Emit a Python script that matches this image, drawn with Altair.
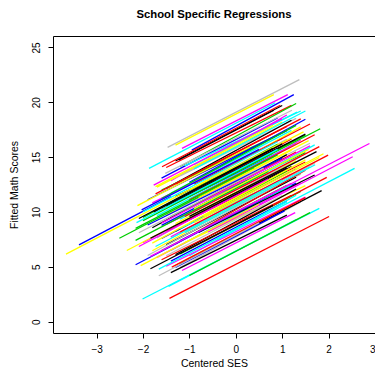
import altair as alt
import pandas as pd

# School-specific fitted regression lines: start/end of Centered SES and fitted math score
x_start = [
    -1.3, -1.5, -1.2, -1.6, -1.1, -1.4, -1.7, -1.2, -1.5, -1.3,
    -1.6, -1.0, -1.4, -1.8, -1.2, -1.5, -1.3, -1.6, -1.1, -1.4,
    -1.7, -1.2, -1.5, -1.3, -1.8, -1.0, -1.4, -1.6, -1.2, -1.5,
    -1.3, -1.7, -1.1, -1.5, -1.3, -1.6, -1.2, -1.4, -1.8, -1.1,
    -1.5, -1.3, -1.6, -1.2, -1.4, -1.7, -1.1, -1.5, -1.3, -1.6,
    -1.2, -1.4, -1.0, -1.5, -1.3, -1.2, -1.4, -0.9, -2.0, -1.9,
    -0.8, -2.0, -0.9, -1.9, -0.8, -1.0, -2.0, -1.9, -0.9, -1.6,
    -1.8, -1.4, -1.5, -1.1, -1.6,
    -1.47, -1.30, -1.16, -0.95, -1.59, -1.23, -1.87, -0.90, -1.52, -0.60,
    -0.40, -0.60, -0.40, -1.20, -1.00, -1.20, -2.01, -1.43, -1.45, -1.00,
    -1.16, -1.30, -1.38, -1.66, -1.84, -2.16, -2.05, -3.38, -3.66, -2.51,
    -2.35, -2.12, -2.03, -2.14, -2.16, -2.09, -1.77, -1.73, -1.00, -0.80,
    -0.90, -1.00, -0.70, -1.10, -1.73, -1.77, -2.00, -2.09, -2.16, -1.84,
    -2.09, -1.73, -1.84, -1.66,
]
x_end = [
    1.0, 1.2, 1.3, 0.9, 1.4, 1.1, 1.0, 1.3, 1.2, 1.4,
    0.9, 1.5, 1.2, 1.0, 1.4, 1.1, 1.3, 1.2, 1.5, 1.0,
    1.3, 1.4, 1.2, 1.6, 1.1, 1.3, 1.5, 1.2, 1.4, 1.0,
    1.3, 1.4, 1.2, 1.5, 1.1, 1.3, 1.6, 1.2, 1.0, 1.4,
    1.3, 1.5, 1.1, 1.3, 1.2, 1.4, 1.5, 1.0, 1.3, 1.2,
    1.4, 1.1, 1.3, 1.5, 1.2, 1.4, 1.1, 1.6, 0.8, 1.0,
    1.7, 1.1, 1.8, 0.9, 1.7, 1.7, 0.9, 1.1, 1.5, 1.6,
    1.5, 1.7, 1.5, 1.8, 1.3,
    1.37, 0.82, 1.12, 1.25, 0.96, 0.82, 0.85, 1.32, 1.21, 1.82,
    2.88, 2.52, 2.56, 1.99, 1.96, 1.85, 1.80, 2.01, 1.30, 1.60,
    1.28, 1.05, 1.50, 0.50, 0.80, 0.30, 0.50, -1.40, -0.60, 0.40,
    0.60, 0.30, 0.50, 0.90, 0.70, 0.60, 1.00, 1.10, 1.46, 1.57,
    1.57, 1.74, 1.89, 1.71, 0.80, 1.00, 0.90, 0.80, 0.90, 1.10,
    0.70, 1.00, 1.20, 1.10,
]
y_start = [
    14.64, 14.05, 14.14, 13.08, 14.20, 12.84, 12.26, 13.28, 12.15, 12.54,
    12.00, 12.70, 11.72, 10.82, 11.52, 10.90, 11.40, 10.22, 11.28, 10.56,
    9.66, 10.32, 9.70, 10.17, 8.56, 10.40, 9.60, 8.78, 9.34, 8.85,
    8.94, 7.62, 9.08, 8.25, 8.21, 7.58, 8.50, 7.72, 6.46, 8.19,
    7.00, 7.08, 6.48, 7.38, 6.48, 5.86, 7.20, 6.00, 6.11, 5.64,
    6.16, 5.52, 6.00, 5.05, 5.14, 4.94, 4.46, 12.52, 9.20, 8.81,
    10.36, 7.20, 9.02, 6.03, 8.12, 11.10, 9.50, 11.11, 13.92, 8.98,
    7.16, 7.62, 10.50, 9.58, 11.22,
    15.88, 16.09, 15.79, 15.64, 14.12, 14.73, 13.97, 14.30, 13.52, 12.30,
    9.10, 8.17, 7.46, 8.16, 6.64, 5.23, 2.06, 2.12, 3.21, 4.20,
    4.66, 4.95, 4.97, 4.18, 4.82, 5.18, 5.10, 7.00, 6.15, 7.60,
    6.48, 10.58, 10.18, 9.03, 7.40, 8.10, 12.45, 11.64, 12.00, 11.30,
    10.30, 9.60, 9.60, 8.10, 12.30, 10.00, 10.00, 9.40, 8.50, 7.60,
    6.85, 6.85, 5.94, 4.79,
]
y_end = [
    19.70, 19.72, 19.89, 18.58, 19.20, 18.84, 18.20, 18.53, 18.36, 18.48,
    17.00, 18.45, 17.44, 16.70, 17.76, 16.62, 16.60, 16.66, 17.00, 15.60,
    16.26, 16.56, 15.64, 16.26, 15.23, 15.46, 15.40, 14.94, 15.32, 14.10,
    14.66, 15.06, 14.14, 14.55, 13.73, 13.96, 14.10, 13.44, 12.90, 13.44,
    13.16, 13.80, 12.42, 12.63, 12.46, 12.68, 12.40, 11.50, 12.09, 11.52,
    11.88, 11.02, 11.52, 11.35, 10.64, 10.92, 9.71, 18.02, 15.36, 14.90,
    16.11, 14.02, 14.96, 12.47, 13.37, 17.04, 16.17, 17.41, 19.20, 16.02,
    14.75, 14.44, 17.10, 15.96, 17.89,
    22.06, 20.70, 20.70, 20.70, 19.73, 19.27, 19.95, 19.10, 19.27, 17.58,
    16.24, 15.03, 13.97, 15.18, 13.15, 11.94, 10.33, 9.58, 9.30, 9.94,
    9.94, 10.10, 11.30, 9.00, 10.60, 10.60, 10.70, 11.40, 12.90, 14.00,
    13.00, 15.90, 15.70, 15.70, 13.70, 14.00, 18.50, 17.80, 17.30, 16.50,
    15.70, 15.50, 15.30, 14.30, 17.90, 16.20, 16.40, 15.80, 15.20, 14.00,
    13.00, 12.90, 12.60, 10.90,
]
palette_cycle = ["black", "red", "green", "blue", "cyan", "magenta", "yellow", "gray"]
line_colors = [palette_cycle[i % 8] for i in range(75)] + [
    "gray", "yellow", "magenta", "blue", "red", "black", "cyan", "cyan", "gray", "green",
    "magenta", "magenta", "cyan", "red", "red", "black", "cyan", "red", "cyan", "green",
    "magenta", "blue", "red", "gray", "black", "blue", "yellow", "blue", "yellow", "green",
    "yellow", "yellow", "blue", "cyan", "green", "gray", "magenta", "red", "yellow", "yellow",
    "yellow", "black", "yellow", "cyan", "yellow", "black", "cyan", "black", "green", "black",
    "magenta", "cyan", "magenta", "cyan",
]
color_hex = {
    "black": "#000000", "red": "#FF0000", "green": "#00CD00", "blue": "#0000FF",
    "cyan": "#00FFFF", "magenta": "#FF00FF", "yellow": "#FFFF00", "gray": "#BEBEBE",
}

x_ticks = [-3, -2, -1, 0, 1, 2, 3]
y_ticks = [0, 5, 10, 15, 20, 25]

df = pd.DataFrame({
    "x0": x_start, "x1": x_end, "y0": y_start, "y1": y_end,
    "col": [color_hex[c] for c in line_colors],
    "ord": list(range(len(x_start))),
})

font = "Liberation Sans"

chart = alt.Chart(df).mark_rule(strokeWidth=1.3, clip=True).encode(
    x=alt.X("x0:Q", scale=alt.Scale(domain=[-3.94, 3.0], nice=False, zero=False),
            axis=alt.Axis(title="Centered SES", values=x_ticks, grid=False, domain=False,
                          tickColor="black", tickSize=5, labelPadding=6, labelFlush=True,
                          labelFontSize=10, labelColor="black", titleFontSize=10.5,
                          titleFontWeight="normal", titleColor="black", titlePadding=4,
                          labelFont=font, titleFont=font)),
    x2="x1:Q",
    y=alt.Y("y0:Q", scale=alt.Scale(domain=[-1.04, 26.04], nice=False, zero=False),
            axis=alt.Axis(title="Fitted Math Scores", values=y_ticks, grid=False, domain=False,
                          tickColor="black", tickSize=5, labelPadding=7, labelAngle=-90,
                          labelAlign="center", labelBaseline="bottom",
                          labelFontSize=10, labelColor="black", titleFontSize=10.5,
                          titleFontWeight="normal", titleColor="black", titlePadding=12,
                          labelFont=font, titleFont=font)),
    y2="y1:Q",
    color=alt.Color("col:N", scale=None),
    order=alt.Order("ord:Q"),
).properties(
    width=322,
    height=297,
    title=alt.TitleParams("School Specific Regressions", font=font, fontSize=11.3,
                          fontWeight="bold", color="black", anchor="middle", offset=15.5),
    autosize=alt.AutoSizeParams(type="none"),
    padding={"left": 45, "top": 28, "right": 0, "bottom": 38},
).configure_view(stroke="black", strokeWidth=1)

chart.save("out.html", embed_options={"renderer": "svg", "actions": False})
